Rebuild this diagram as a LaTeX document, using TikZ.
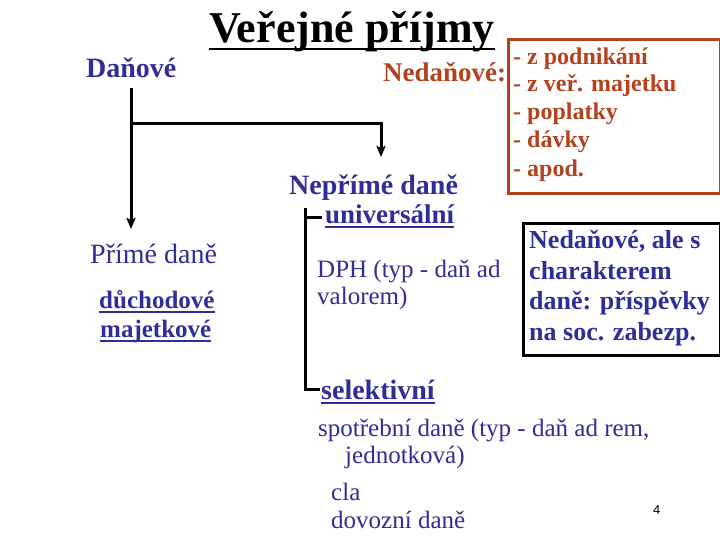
\documentclass[tikz,border=0pt]{standalone}
\usepackage{fontspec}
\setmainfont{Liberation Serif}
\newfontfamily\arialf{Liberation Sans}
\usetikzlibrary{arrows.meta}
\definecolor{tblue}{RGB}{46,46,150}
\definecolor{tred}{RGB}{180,66,30}
\newcommand\fs[1]{\fontsize{#1}{#1}\selectfont}
\begin{document}
\begin{tikzpicture}[x=1pt,y=-1pt,
 txt/.style={inner sep=0pt, anchor=base west},
 bl/.style={txt, text=tblue},
 rd/.style={txt, text=tred, font=\fs{24}\bfseries},
 bxt/.style={bl, font=\fs{26}\bfseries},
 conn/.style={line width=3pt, black},
 tip/.style={-{Stealth[length=11pt,width=9pt,inset=2pt]}},
 ulb/.style={line width=1.6pt, tblue}]
\useasboundingbox[fill=white] (0,0) rectangle (720,540);

% title
\node[txt, font=\fs{44}\bfseries] (title) at (209,43) {Veřejné příjmy};
\draw[line width=2.8pt] ([yshift=-6pt]title.base west) -- ([yshift=-6pt]title.base east);

\node[bl, font=\fs{28}\bfseries] (danove) at (86,78) {Daňové};
\node[txt, text=tred, font=\fs{27}\bfseries] (nedanove) at (383,82) {Nedaňové:};

% red box
\node[draw=tred, line width=3pt, minimum width=212pt, minimum height=154pt, anchor=north west, inner sep=0pt] (redbox) at (507,38) {};
\node[rd] (r1) at (513,65) {- z podnikání};
\node[rd] (r2) at (513,92) {- z veř. majetku};
\node[rd] (r3) at (513,120) {- poplatky};
\node[rd] (r4) at (513,148) {- dávky};
\node[rd] (r5) at (513,177) {- apod.};

% indirect
\node[bl, font=\fs{28}\bfseries, text depth=0pt] (neprime) at (289,195) {Nepřímé daně};
\node[bl, font=\fs{27}\bfseries] (univ) at (325,223) {universální};
\draw[ulb] ([yshift=-4pt]univ.base west) -- ([yshift=-4pt]univ.base east);
\node[bl, font=\fs{25}] (dph1) at (317,277) {DPH (typ - daň ad};
\node[bl, font=\fs{25}] (dph2) at (317,304) {valorem)};

% black box
\node[draw=black, line width=3pt, minimum width=197pt, minimum height=132pt, anchor=north west, inner sep=0pt] (blackbox) at (522,222) {};
\node[bxt] (k1) at (529,248) {Nedaňové, ale s};
\node[bxt] (k2) at (529,279) {charakterem};
\node[bxt] (k3) at (529,309) {daně: příspěvky};
\node[bxt] (k4) at (529,340) {na soc. zabezp.};

% direct
\node[bl, font=\fs{28}] (prime) at (90,263) {Přímé daně};
\node[bl, font=\fs{25}\bfseries] (duch) at (99,308) {důchodové};
\draw[ulb] ([yshift=-4pt]duch.base west) -- ([yshift=-4pt]duch.base east);
\node[bl, font=\fs{25}\bfseries] (majet) at (100,337) {majetkové};
\draw[ulb] ([yshift=-4pt]majet.base west) -- ([yshift=-4pt]majet.base east);

% selective
\node[bl, font=\fs{28}\bfseries] (sel) at (321,399) {selektivní};
\draw[ulb] ([yshift=-4pt]sel.base west) -- ([yshift=-4pt]sel.base east);
\node[bl, font=\fs{25}] (sp1) at (318,436) {spotřební daně (typ - daň ad rem,};
\node[bl, font=\fs{25}] (sp2) at (345,463) {jednotková)};
\node[bl, font=\fs{25}] (cla) at (331,500) {cla};
\node[bl, font=\fs{25}] (dov) at (331,528) {dovozní daně};

\node[txt, font=\arialf\fs{13}] (pnum) at (653,514) {4};

% connectors
\coordinate (d0) at (131,88);
\coordinate (d1) at (131,229);
\coordinate (j1) at (131,124);
\coordinate (n1) at (381,157);
\draw[conn,tip] (d0) -- (d1);
\draw[conn,tip] (j1) -| (n1);
\coordinate (b0) at (305,208);
\coordinate (b1) at (305,389);
\coordinate (b2) at (320,389);
\coordinate (t0) at (305,218);
\coordinate (t1) at (322,218);
\draw[conn] (b0) -- (b1) -- (b2);
\draw[conn] (t0) -- (t1);
\end{tikzpicture}
\end{document}
